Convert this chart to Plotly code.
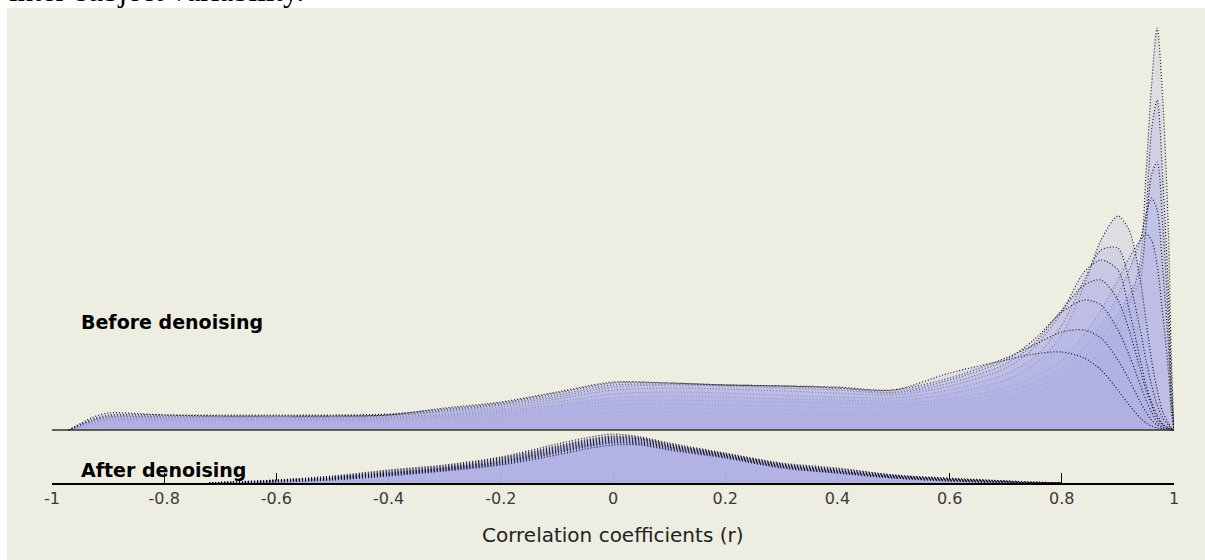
import plotly.graph_objects as go

# Grid of correlation values at which each subject's density is sampled
before_x = [-0.97, -0.93, -0.9, -0.8, -0.7, -0.6, -0.5, -0.4, -0.3, -0.2, -0.1,
            0.0, 0.1, 0.2, 0.3, 0.4, 0.5, 0.6, 0.7, 0.75, 0.8, 0.84, 0.87, 0.9,
            0.92, 0.94, 0.95, 0.96, 0.97, 0.98, 0.99, 0.995, 1.0]

# Densities (arbitrary units) before denoising, one list per subject
before_s01 = [0, 5, 7, 7, 7, 7, 7, 8, 9, 10, 12, 14, 14, 13, 13, 13, 14, 18, 26, 32, 42, 55, 70, 95, 125, 170, 255, 345, 402, 330, 200, 80, 0]
before_s02 = [0, 5, 8, 8, 8, 8, 8, 9, 10, 12, 15, 18, 18, 17, 16, 16, 17, 22, 30, 37, 48, 62, 80, 108, 130, 150, 210, 300, 330, 250, 140, 55, 0]
before_s03 = [0, 6, 9, 9, 9, 9, 9, 10, 12, 14, 18, 22, 22, 21, 20, 19, 20, 25, 34, 42, 55, 72, 92, 115, 135, 160, 200, 255, 268, 205, 110, 40, 0]
before_s04 = [0, 7, 10, 10, 10, 10, 10, 11, 13, 16, 20, 25, 26, 25, 24, 23, 23, 28, 38, 47, 62, 82, 105, 135, 160, 190, 215, 232, 220, 160, 85, 30, 0]
before_s05 = [0, 7, 10, 10, 10, 10, 10, 11, 14, 18, 23, 29, 30, 29, 28, 27, 26, 31, 42, 53, 70, 95, 120, 150, 172, 190, 196, 190, 165, 115, 60, 20, 0]
before_s06 = [0, 8, 11, 11, 11, 11, 11, 12, 15, 19, 25, 32, 34, 33, 31, 30, 29, 36, 50, 65, 95, 145, 190, 214, 200, 150, 110, 70, 40, 18, 7, 2, 0]
before_s07 = [0, 8, 12, 12, 12, 12, 12, 13, 16, 21, 28, 36, 38, 37, 35, 33, 32, 40, 56, 72, 105, 150, 180, 182, 150, 100, 70, 45, 25, 12, 5, 2, 0]
before_s08 = [0, 9, 13, 13, 13, 13, 13, 14, 18, 23, 31, 40, 42, 41, 39, 37, 35, 44, 62, 82, 118, 158, 170, 160, 120, 70, 45, 28, 15, 6, 2, 1, 0]
before_s09 = [0, 9, 13, 13, 13, 13, 13, 15, 19, 25, 33, 43, 45, 44, 42, 40, 37, 47, 66, 86, 120, 145, 150, 130, 100, 60, 40, 25, 12, 5, 2, 1, 0]
before_s10 = [0, 10, 14, 14, 14, 14, 14, 15, 20, 26, 35, 45, 46, 45, 44, 42, 38, 50, 70, 90, 118, 130, 125, 100, 75, 45, 30, 18, 8, 3, 1, 0, 0]
before_s11 = [0, 10, 15, 15, 15, 15, 15, 16, 21, 27, 37, 47, 47, 45, 44, 42, 40, 52, 72, 85, 98, 100, 92, 70, 50, 28, 18, 10, 5, 2, 1, 0, 0]
before_s12 = [0, 12, 17, 15, 14, 14, 14, 15, 22, 28, 38, 48, 47, 45, 44, 43, 40, 57, 70, 76, 78, 72, 60, 40, 25, 12, 7, 4, 2, 1, 0, 0, 0]

after_x = [-0.72, -0.68, -0.6, -0.5, -0.4, -0.3, -0.2, -0.1, -0.05, 0.0,
           0.05, 0.1, 0.2, 0.3, 0.4, 0.5, 0.6, 0.7, 0.75, 0.8]

# Densities (same units) after denoising
after_s01 = [0, 1, 3, 7, 13, 18, 26, 39, 45, 49, 46, 40, 30, 20, 15, 8, 5, 2, 1, 0]
after_s02 = [0, 1, 3, 6, 12, 17, 25, 37, 43, 47, 45, 39, 29, 19, 14, 8, 4, 2, 1, 0]
after_s03 = [0, 1, 2, 6, 11, 16, 24, 36, 42, 46, 44, 38, 29, 19, 13, 7, 4, 2, 0, 0]
after_s04 = [0, 1, 2, 5, 10, 15, 23, 35, 41, 45, 44, 38, 28, 18, 13, 7, 4, 1, 0, 0]
after_s05 = [0, 0, 2, 5, 10, 15, 22, 34, 40, 44, 43, 37, 28, 18, 12, 7, 3, 1, 0, 0]
after_s06 = [0, 0, 2, 5, 9, 14, 21, 33, 39, 43, 42, 36, 27, 17, 12, 6, 3, 1, 0, 0]
after_s07 = [0, 0, 2, 4, 9, 14, 21, 32, 38, 42, 41, 36, 27, 17, 11, 6, 3, 1, 0, 0]
after_s08 = [0, 0, 2, 4, 8, 13, 20, 31, 37, 41, 40, 35, 26, 16, 11, 6, 3, 1, 0, 0]
after_s09 = [0, 0, 1, 4, 8, 13, 19, 30, 36, 40, 39, 34, 26, 16, 10, 5, 2, 1, 0, 0]
after_s10 = [0, 0, 1, 3, 7, 12, 18, 28, 34, 38, 38, 33, 25, 15, 10, 5, 2, 0, 0, 0]

tick_vals = [-1, -0.8, -0.6, -0.4, -0.2, 0, 0.2, 0.4, 0.6, 0.8, 1]
tick_text = ["-1", "-0.8", "-0.6", "-0.4", "-0.2", "0", "0.2", "0.4", "0.6", "0.8", "1"]

panel_labels = ["Before denoising", "After denoising"]
x_title = "Correlation coefficients (r)"
caption = "inter-subject variability."

before_sets = [before_s01, before_s02, before_s03, before_s04, before_s05, before_s06,
               before_s07, before_s08, before_s09, before_s10, before_s11, before_s12]
after_sets = [after_s01, after_s02, after_s03, after_s04, after_s05,
              after_s06, after_s07, after_s08, after_s09, after_s10]

BG = "rgb(237,237,225)"
FILL = "rgba(174,174,230,0.25)"
DOTS = "rgba(10,10,20,0.9)"
BEFORE_BASE = 53   # vertical offset of the upper ridge
Y_TOP = 475

fig = go.Figure()


def add_ridge(xs, ys, base):
    fig.add_trace(go.Scatter(
        x=xs, y=[base + v for v in ys],
        mode="lines", fill="toself", fillcolor=FILL,
        line=dict(color=DOTS, width=1.2, dash="1px,2px", shape="spline", smoothing=0.8),
        hoverinfo="skip", showlegend=False,
    ))


for ys in before_sets:
    add_ridge(before_x, ys, BEFORE_BASE)
for ys in after_sets:
    add_ridge(after_x, ys, 0)

# Baseline of the upper ridge
fig.add_shape(type="line", xref="x", yref="y", x0=-1, x1=1, y0=BEFORE_BASE, y1=BEFORE_BASE,
              line=dict(color="#333333", width=1.5), layer="above")

# White page strips around the figure panel
fig.add_shape(type="rect", xref="paper", yref="paper", x0=-0.2, x1=1.2, y0=1.0, y1=1.3,
              fillcolor="white", line_width=0, layer="above")
fig.add_shape(type="rect", xref="paper", yref="paper", x0=-0.2, x1=-0.0401, y0=-0.3, y1=1.3,
              fillcolor="white", line_width=0, layer="above")

font_main = "DejaVu Sans"
fig.add_annotation(text="<b>%s</b>" % panel_labels[0], xref="paper", yref="paper",
                   x=0.024, y=0.339, xanchor="left", yanchor="middle", showarrow=False,
                   font=dict(family=font_main, size=19, color="black"))
fig.add_annotation(text="<b>%s</b>" % panel_labels[1], xref="paper", yref="paper",
                   x=0.024, y=0.0274, xanchor="left", yanchor="middle", showarrow=False,
                   font=dict(family=font_main, size=19, color="black"))
fig.add_annotation(text=x_title, xref="paper", yref="paper",
                   x=0.5, y=-0.109, xanchor="center", yanchor="middle", showarrow=False,
                   font=dict(family=font_main, size=20, color="#222222"))
fig.add_annotation(text=caption, xref="paper", yref="paper",
                   x=-0.0401, y=0.9958, xanchor="left", yanchor="bottom", showarrow=False,
                   font=dict(family="Liberation Serif", size=31, color="black"))

fig.update_layout(
    width=1205, height=560,
    margin=dict(l=52, r=31, t=8, b=77),
    paper_bgcolor=BG, plot_bgcolor=BG,
    showlegend=False,
    xaxis=dict(range=[-1, 1], tickvals=tick_vals, ticktext=tick_text,
               ticks="inside", ticklen=10, tickwidth=1, tickcolor="black",
               showline=True, linecolor="black", linewidth=2,
               showgrid=False, zeroline=False, layer="below traces",
               tickfont=dict(family=font_main, size=16, color="#3a3a3a"),
               fixedrange=True),
    yaxis=dict(range=[0, Y_TOP], visible=False, fixedrange=True),
)

fig.write_html("out.html")
